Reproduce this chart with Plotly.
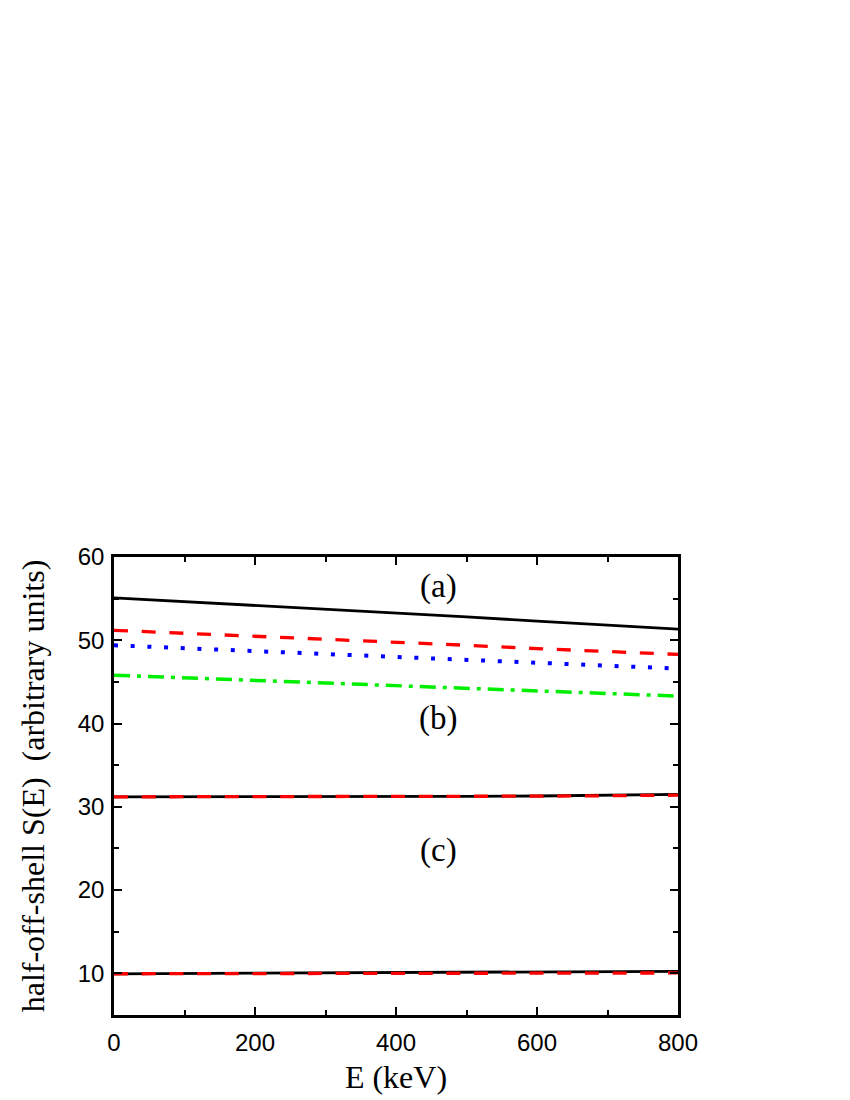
import plotly.graph_objects as go

E = [0, 100, 200, 300, 400, 500, 600, 700, 800]
a_black = [55.1, 54.65, 54.2, 53.75, 53.3, 52.8, 52.3, 51.8, 51.35]
a_red = [51.2, 50.85, 50.5, 50.15, 49.8, 49.4, 49.0, 48.65, 48.3]
a_blue = [49.4, 49.05, 48.7, 48.35, 48.0, 47.65, 47.3, 46.95, 46.6]
a_green = [45.8, 45.5, 45.2, 44.9, 44.55, 44.25, 43.95, 43.6, 43.3]
b_black = [31.2, 31.2, 31.2, 31.2, 31.22, 31.25, 31.3, 31.4, 31.5]
b_red = [31.2, 31.2, 31.2, 31.2, 31.22, 31.25, 31.28, 31.33, 31.4]
c_black = [9.95, 9.98, 10.02, 10.06, 10.1, 10.13, 10.17, 10.21, 10.25]
c_red = [9.95, 9.96, 9.98, 9.99, 10.0, 10.01, 10.02, 10.04, 10.05]

panel_labels = ["(a)", "(b)", "(c)"]
label_x = [460, 460, 460]
label_y = [56.4, 40.6, 24.8]

fig = go.Figure()

def add(y, color, dash, width=2.5):
    fig.add_trace(go.Scatter(x=E, y=y, mode="lines",
                             line=dict(color=color, dash=dash, width=width),
                             showlegend=False))

add(a_black, "black", "solid", 2.8)
add(a_red, "red", "14px,13.7px", 3.3)
add(a_blue, "blue", "4px,12.7px", 4)
add(a_green, "#00ee00", "16px,7px,4px,7px", 3.5)
add(b_black, "black", "solid", 2.8)
add(b_red, "red", "14px,13.7px", 3.3)
add(c_black, "black", "solid", 2.8)
add(c_red, "red", "14px,13.7px", 3.3)

for t, x, y in zip(panel_labels, label_x, label_y):
    fig.add_annotation(x=x, y=y, text=t, showarrow=False,
                       font=dict(family="Liberation Serif", size=33, color="black"))

axis_common = dict(
    showline=True, linecolor="black", linewidth=2.5, mirror="allticks",
    ticks="inside", ticklen=8, tickwidth=2, tickcolor="black",
    showgrid=False, zeroline=False,
    tickfont=dict(family="Liberation Sans", size=24, color="black"),
    title_font=dict(family="Liberation Serif", size=32, color="black"),
)

fig.update_xaxes(range=[0, 800], tickvals=[0, 200, 400, 600, 800],
                 minor=dict(tickvals=[100, 300, 500, 700], ticks="inside",
                            ticklen=5, tickwidth=2, tickcolor="black"),
                 ticklabelstandoff=4,
                 title_text="E (keV)", title_standoff=12, **axis_common)
fig.update_yaxes(range=[5, 60], tickvals=[10, 20, 30, 40, 50, 60],
                 minor=dict(tickvals=[5, 15, 25, 35, 45, 55], ticks="inside",
                            ticklen=5, tickwidth=2, tickcolor="black"),
                 ticklabelstandoff=2,
                 title_text="half-off-shell S(E)  (arbitrary units)", title_standoff=24,
                 **axis_common)

fig.update_layout(width=850, height=1100,
                  margin=dict(l=106, r=180, t=549, b=93),
                  paper_bgcolor="white", plot_bgcolor="white")

fig.write_html("out.html")
